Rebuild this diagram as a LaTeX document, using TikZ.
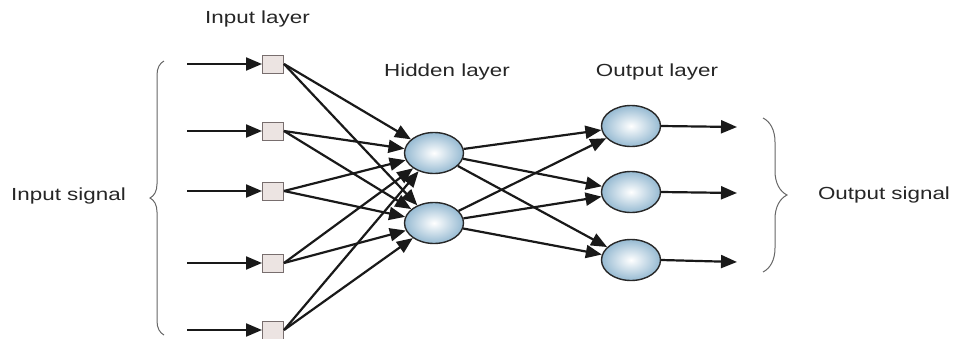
\documentclass[tikz,border=0pt]{standalone}
\usepackage{fontspec}
\setmainfont{Liberation Sans}
\usetikzlibrary{arrows.meta,decorations.pathreplacing,shadings,shapes.geometric}
\definecolor{nodeblue}{RGB}{150,186,210}
\definecolor{sqfill}{RGB}{236,228,226}
\definecolor{sqdraw}{RGB}{120,110,110}
\definecolor{ringdraw}{RGB}{40,40,40}
\newcommand{\stretchtext}[1]{\scalebox{1.28}[1]{#1}}
\begin{document}
\begin{tikzpicture}[x=1pt,y=-1pt,
  inbox/.style={draw=sqdraw,fill=sqfill,line width=1pt,minimum width=21pt,minimum height=18pt,inner sep=0pt},
  neuron/.style={ellipse,draw=ringdraw,line width=1.4pt,inner color=white,outer color=nodeblue,minimum width=59pt,minimum height=41pt,inner sep=0pt},
  conn/.style={line width=2.2pt,draw=black!90,-{Stealth[length=16pt,width=13pt,inset=0pt]}},
  lab/.style={font=\fontsize{17.5}{20}\selectfont,text=black!85,inner sep=0pt},
  bracestyle/.style={draw=black!60,line width=1pt,decorate},
]
\useasboundingbox (0,0) rectangle (954,338);
% input squares
\node[inbox] (i1) at (273,64) {};
\node[inbox] (i2) at (273,131) {};
\node[inbox] (i3) at (273,191) {};
\node[inbox] (i4) at (273,263) {};
\node[inbox] (i5) at (273,330) {};
% input arrow tails
\coordinate (s1) at (187,64);
\coordinate (s2) at (187,131);
\coordinate (s3) at (187,191);
\coordinate (s4) at (187,263);
\coordinate (s5) at (187,330);
% hidden
\node[neuron] (h1) at (434,153) {};
\node[neuron] (h2) at (434,223) {};
% output
\node[neuron] (o1) at (631,126) {};
\node[neuron] (o2) at (631,192) {};
\node[neuron] (o3) at (631,260) {};
\coordinate (e1) at (737,127);
\coordinate (e2) at (737,193);
\coordinate (e3) at (737,262);
% arrows
\foreach \k in {1,...,5}{
  \draw[conn] (s\k) -- (i\k);
  \draw[conn] (i\k.east) -- (h1);
  \draw[conn] (i\k.east) -- (h2);
}
\foreach \h in {1,2}{
  \foreach \o in {1,2,3}{
    \draw[conn] (h\h) -- (o\o);
  }
}
\foreach \o in {1,2,3}{
  \draw[conn] (o\o.east) -- (e\o);
}
% braces
\coordinate (lb1) at (164,335);
\coordinate (lb2) at (164,61);
\draw[bracestyle,decoration={brace,amplitude=14pt}] (lb1) -- (lb2);
\coordinate (rb1) at (763,118);
\coordinate (rb2) at (763,272);
\draw[bracestyle,decoration={brace,amplitude=24pt}] (rb1) -- (rb2);
% labels
\node[lab] (tin) at (257.5,19) {\stretchtext{Input layer}};
\node[lab] (thid) at (447,72) {\stretchtext{Hidden layer}};
\node[lab] (tout) at (657,72) {\stretchtext{Output layer}};
\node[lab] (tis) at (68.5,196) {\stretchtext{Input signal}};
\node[lab] (tos) at (884,195) {\stretchtext{Output signal}};
\end{tikzpicture}
\end{document}
